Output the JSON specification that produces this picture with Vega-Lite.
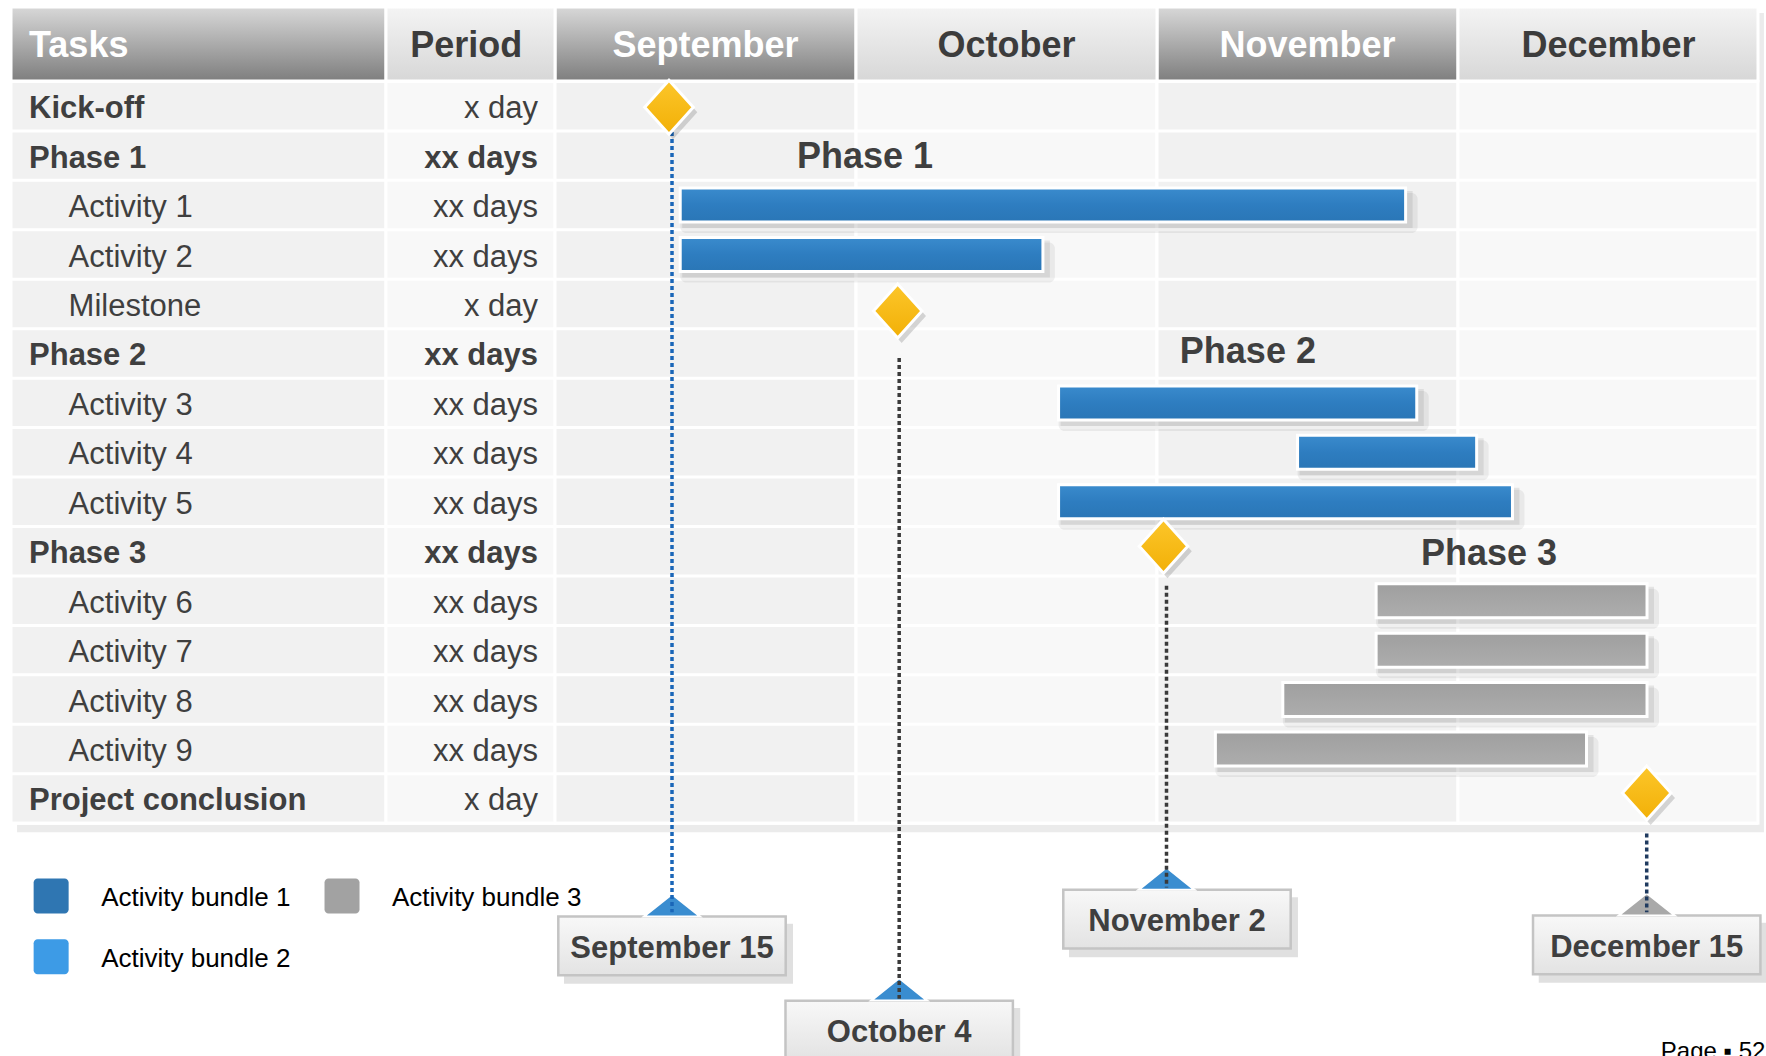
{
  "$schema": "https://vega.github.io/schema/vega-lite/v6.json",
  "width": 1766,
  "height": 1056,
  "autosize": {"type": "none"},
  "padding": 0,
  "background": "#ffffff",
  "config": {"view": {"stroke": null}, "text": {"font": "Liberation Sans"}},
  "resolve": {"scale": {"color": "independent"}},
  "datasets": {
    "header": [
      {"col": "Tasks", "x0": -1.8073, "x1": -0.5615, "mid": -1.7475, "tone": "dark"},
      {"col": "Period", "x0": -0.5615, "x1": 0, "mid": -0.295, "tone": "light"},
      {"col": "September", "x0": 0, "x1": 1, "mid": 0.5, "tone": "dark"},
      {"col": "October", "x0": 1, "x1": 2, "mid": 1.5, "tone": "light"},
      {"col": "November", "x0": 2, "x1": 3, "mid": 2.5, "tone": "dark"},
      {"col": "December", "x0": 3, "x1": 3.9967, "mid": 3.5, "tone": "light"}
    ],
    "tasks": [
      {"row": 0, "task": "Kick-off", "period": "x day", "level": "top", "kind": "event"},
      {"row": 1, "task": "Phase 1", "period": "xx days", "level": "top", "kind": "phase"},
      {"row": 2, "task": "Activity 1", "period": "xx days", "level": "sub", "kind": "activity"},
      {"row": 3, "task": "Activity 2", "period": "xx days", "level": "sub", "kind": "activity"},
      {"row": 4, "task": "Milestone", "period": "x day", "level": "sub", "kind": "event"},
      {"row": 5, "task": "Phase 2", "period": "xx days", "level": "top", "kind": "phase"},
      {"row": 6, "task": "Activity 3", "period": "xx days", "level": "sub", "kind": "activity"},
      {"row": 7, "task": "Activity 4", "period": "xx days", "level": "sub", "kind": "activity"},
      {"row": 8, "task": "Activity 5", "period": "xx days", "level": "sub", "kind": "activity"},
      {"row": 9, "task": "Phase 3", "period": "xx days", "level": "top", "kind": "phase"},
      {"row": 10, "task": "Activity 6", "period": "xx days", "level": "sub", "kind": "activity"},
      {"row": 11, "task": "Activity 7", "period": "xx days", "level": "sub", "kind": "activity"},
      {"row": 12, "task": "Activity 8", "period": "xx days", "level": "sub", "kind": "activity"},
      {"row": 13, "task": "Activity 9", "period": "xx days", "level": "sub", "kind": "activity"},
      {"row": 14, "task": "Project conclusion", "period": "x day", "level": "top", "kind": "event"}
    ],
    "bars": [
      {"task": "Activity 1", "row": 2, "start": 0.416, "end": 2.826, "bundle": "Activity bundle 1"},
      {"task": "Activity 2", "row": 3, "start": 0.416, "end": 1.621, "bundle": "Activity bundle 1"},
      {"task": "Activity 3", "row": 6, "start": 1.673, "end": 2.863, "bundle": "Activity bundle 2"},
      {"task": "Activity 4", "row": 7, "start": 2.467, "end": 3.062, "bundle": "Activity bundle 2"},
      {"task": "Activity 5", "row": 8, "start": 1.673, "end": 3.181, "bundle": "Activity bundle 2"},
      {"task": "Activity 6", "row": 10, "start": 2.728, "end": 3.628, "bundle": "Activity bundle 3"},
      {"task": "Activity 7", "row": 11, "start": 2.728, "end": 3.628, "bundle": "Activity bundle 3"},
      {"task": "Activity 8", "row": 12, "start": 2.418, "end": 3.628, "bundle": "Activity bundle 3"},
      {"task": "Activity 9", "row": 13, "start": 2.194, "end": 3.427, "bundle": "Activity bundle 3"}
    ],
    "phases": [
      {"label": "Phase 1", "pos": 1.03, "row": 0.99},
      {"label": "Phase 2", "pos": 2.302, "row": 4.94},
      {"label": "Phase 3", "pos": 3.103, "row": 9.01}
    ],
    "diamonds": [
      {"task": "Kick-off", "pos": 0.3787, "row": 0.02},
      {"task": "Milestone", "pos": 1.1385, "row": 4.14},
      {"task": "Phase 3", "pos": 2.0216, "row": 8.9},
      {"task": "Project conclusion", "pos": 3.627, "row": 13.89}
    ],
    "dates": [
      {"date": "September 15", "line": 0.3887, "top": 0.52, "bottom": 16.3, "labelX": 0.3887, "labelY": 16.98},
      {"date": "October 4", "line": 1.1435, "top": 5.09, "bottom": 18.05, "labelX": 1.1435, "labelY": 18.68},
      {"date": "November 2", "line": 2.0316, "top": 9.7, "bottom": 15.8, "labelX": 2.0664, "labelY": 16.44},
      {"date": "December 15", "line": 3.627, "top": 14.71, "bottom": 16.3, "labelX": 3.627, "labelY": 16.96}
    ],
    "legend": [
      {"bundle": "Activity bundle 1", "col": -1.674, "row": 15.97},
      {"bundle": "Activity bundle 2", "col": -1.674, "row": 17.2},
      {"bundle": "Activity bundle 3", "col": -0.7076, "row": 15.97}
    ]
  },
  "layer": [
    {
      "data": {"values": [{"part": "table"}]},
      "mark": {"type": "rect", "fill": "#000000", "opacity": 0.08, "xOffset": 6, "x2Offset": 6, "yOffset": 6, "y2Offset": 9},
      "encoding": {
        "x": {"datum": -1.8073, "type": "quantitative", "scale": {"domain": [-1.8439, 4.0233], "nice": false, "zero": false}, "axis": null},
        "x2": {"datum": 3.9967},
        "y": {"datum": -2.006, "type": "quantitative", "scale": {"domain": [-2.1476, 19.2073], "nice": false, "zero": false, "reverse": true}, "axis": null},
        "y2": {"datum": 14.5}
      }
    },
    {
      "data": {"name": "header"},
      "transform": [{"filter": "datum.tone === 'dark'"}],
      "mark": {"type": "rect", "stroke": "#ffffff", "strokeWidth": 3,
        "fill": {"gradient": "linear", "x1": 0, "y1": 0, "x2": 0, "y2": 1, "stops": [{"offset": 0, "color": "#d8d8d8"}, {"offset": 1, "color": "#7e7e7e"}]}},
      "encoding": {
        "x": {"field": "x0", "type": "quantitative", "scale": {"domain": [-1.8439, 4.0233], "nice": false, "zero": false}, "axis": null},
        "x2": {"field": "x1"},
        "y": {"datum": -2.006, "type": "quantitative", "scale": {"domain": [-2.1476, 19.2073], "nice": false, "zero": false, "reverse": true}, "axis": null},
        "y2": {"datum": -0.51}
      }
    },
    {
      "data": {"name": "header"},
      "transform": [{"filter": "datum.tone === 'light'"}],
      "mark": {"type": "rect", "stroke": "#ffffff", "strokeWidth": 3,
        "fill": {"gradient": "linear", "x1": 0, "y1": 0, "x2": 0, "y2": 1, "stops": [{"offset": 0, "color": "#f4f4f4"}, {"offset": 1, "color": "#d7d7d7"}]}},
      "encoding": {
        "x": {"field": "x0", "type": "quantitative", "scale": {"domain": [-1.8439, 4.0233], "nice": false, "zero": false}, "axis": null},
        "x2": {"field": "x1"},
        "y": {"datum": -2.006, "type": "quantitative", "scale": {"domain": [-2.1476, 19.2073], "nice": false, "zero": false, "reverse": true}, "axis": null},
        "y2": {"datum": -0.51}
      }
    },
    {
      "data": {"name": "header"},
      "mark": {"type": "rect", "stroke": "#ffffff", "strokeWidth": 3},
      "encoding": {
        "x": {"field": "x0", "type": "quantitative", "scale": {"domain": [-1.8439, 4.0233], "nice": false, "zero": false}, "axis": null},
        "x2": {"field": "x1"},
        "y": {"datum": -0.5, "type": "quantitative", "scale": {"domain": [-2.1476, 19.2073], "nice": false, "zero": false, "reverse": true}, "axis": null},
        "y2": {"datum": 14.5},
        "color": {"field": "tone", "type": "nominal", "scale": {"domain": ["dark", "light"], "range": ["#f1f1f1", "#f8f8f8"]}, "legend": null}
      }
    },
    {
      "data": {"name": "tasks"},
      "mark": {"type": "rule", "stroke": "#ffffff", "strokeWidth": 3, "yOffset": 24.72},
      "encoding": {
        "x": {"datum": -1.8073, "type": "quantitative", "scale": {"domain": [-1.8439, 4.0233], "nice": false, "zero": false}, "axis": null},
        "x2": {"datum": 3.9967},
        "y": {"field": "row", "type": "quantitative", "scale": {"domain": [-2.1476, 19.2073], "nice": false, "zero": false, "reverse": true}, "axis": null}
      }
    },
    {
      "data": {"name": "header"},
      "transform": [{"filter": "datum.tone === 'dark' && datum.col !== 'Tasks'"}],
      "mark": {"type": "text", "align": "center", "baseline": "middle", "fontSize": 36, "fontWeight": "bold", "fill": "#ffffff", "dy": 3},
      "encoding": {
        "x": {"field": "mid", "type": "quantitative", "scale": {"domain": [-1.8439, 4.0233], "nice": false, "zero": false}, "axis": null},
        "y": {"datum": -1.27, "type": "quantitative", "scale": {"domain": [-2.1476, 19.2073], "nice": false, "zero": false, "reverse": true}, "axis": null},
        "text": {"field": "col"}
      }
    },
    {
      "data": {"name": "header"},
      "transform": [{"filter": "datum.col === 'Tasks'"}],
      "mark": {"type": "text", "align": "left", "baseline": "middle", "fontSize": 36, "fontWeight": "bold", "fill": "#ffffff", "dy": 3},
      "encoding": {
        "x": {"field": "mid", "type": "quantitative", "scale": {"domain": [-1.8439, 4.0233], "nice": false, "zero": false}, "axis": null},
        "y": {"datum": -1.27, "type": "quantitative", "scale": {"domain": [-2.1476, 19.2073], "nice": false, "zero": false, "reverse": true}, "axis": null},
        "text": {"field": "col"}
      }
    },
    {
      "data": {"name": "header"},
      "transform": [{"filter": "datum.tone === 'light'"}],
      "mark": {"type": "text", "align": "center", "baseline": "middle", "fontSize": 36, "fontWeight": "bold", "fill": "#3c3c3c", "dy": 3},
      "encoding": {
        "x": {"field": "mid", "type": "quantitative", "scale": {"domain": [-1.8439, 4.0233], "nice": false, "zero": false}, "axis": null},
        "y": {"datum": -1.27, "type": "quantitative", "scale": {"domain": [-2.1476, 19.2073], "nice": false, "zero": false, "reverse": true}, "axis": null},
        "text": {"field": "col"}
      }
    },
    {
      "data": {"name": "tasks"},
      "transform": [{"filter": "datum.level === 'top'"}],
      "mark": {"type": "text", "align": "left", "baseline": "middle", "fontSize": 31, "fontWeight": "bold", "fill": "#3f3f3f", "dy": 3},
      "encoding": {
        "x": {"datum": -1.7475, "type": "quantitative", "scale": {"domain": [-1.8439, 4.0233], "nice": false, "zero": false}, "axis": null},
        "y": {"field": "row", "type": "quantitative", "scale": {"domain": [-2.1476, 19.2073], "nice": false, "zero": false, "reverse": true}, "axis": null},
        "text": {"field": "task"}
      }
    },
    {
      "data": {"name": "tasks"},
      "transform": [{"filter": "datum.level === 'sub'"}],
      "mark": {"type": "text", "align": "left", "baseline": "middle", "fontSize": 31, "fill": "#3f3f3f", "dy": 3},
      "encoding": {
        "x": {"datum": -1.616, "type": "quantitative", "scale": {"domain": [-1.8439, 4.0233], "nice": false, "zero": false}, "axis": null},
        "y": {"field": "row", "type": "quantitative", "scale": {"domain": [-2.1476, 19.2073], "nice": false, "zero": false, "reverse": true}, "axis": null},
        "text": {"field": "task"}
      }
    },
    {
      "data": {"name": "tasks"},
      "transform": [{"filter": "datum.kind === 'phase'"}],
      "mark": {"type": "text", "align": "right", "baseline": "middle", "fontSize": 31, "fontWeight": "bold", "fill": "#3f3f3f", "dy": 3},
      "encoding": {
        "x": {"datum": -0.0565, "type": "quantitative", "scale": {"domain": [-1.8439, 4.0233], "nice": false, "zero": false}, "axis": null},
        "y": {"field": "row", "type": "quantitative", "scale": {"domain": [-2.1476, 19.2073], "nice": false, "zero": false, "reverse": true}, "axis": null},
        "text": {"field": "period"}
      }
    },
    {
      "data": {"name": "tasks"},
      "transform": [{"filter": "datum.kind !== 'phase'"}],
      "mark": {"type": "text", "align": "right", "baseline": "middle", "fontSize": 31, "fill": "#3f3f3f", "dy": 3},
      "encoding": {
        "x": {"datum": -0.0565, "type": "quantitative", "scale": {"domain": [-1.8439, 4.0233], "nice": false, "zero": false}, "axis": null},
        "y": {"field": "row", "type": "quantitative", "scale": {"domain": [-2.1476, 19.2073], "nice": false, "zero": false, "reverse": true}, "axis": null},
        "text": {"field": "period"}
      }
    },
    {
      "data": {"name": "phases"},
      "mark": {"type": "text", "align": "center", "baseline": "middle", "fontSize": 36, "fontWeight": "bold", "fill": "#3f3f3f", "dy": 2},
      "encoding": {
        "x": {"field": "pos", "type": "quantitative", "scale": {"domain": [-1.8439, 4.0233], "nice": false, "zero": false}, "axis": null},
        "y": {"field": "row", "type": "quantitative", "scale": {"domain": [-2.1476, 19.2073], "nice": false, "zero": false, "reverse": true}, "axis": null},
        "text": {"field": "label"}
      }
    },
    {
      "data": {"name": "bars"},
      "mark": {"type": "rect", "fill": "#000000", "opacity": 0.06, "cornerRadius": 6, "xOffset": 0, "x2Offset": 12, "yOffset": -12, "y2Offset": 28},
      "encoding": {
        "x": {"field": "start", "type": "quantitative", "scale": {"domain": [-1.8439, 4.0233], "nice": false, "zero": false}, "axis": null},
        "x2": {"field": "end"},
        "y": {"field": "row", "type": "quantitative", "scale": {"domain": [-2.1476, 19.2073], "nice": false, "zero": false, "reverse": true}, "axis": null},
        "y2": {"field": "row"}
      }
    },
    {
      "data": {"name": "bars"},
      "mark": {"type": "rect", "fill": "#000000", "opacity": 0.08, "xOffset": 2, "x2Offset": 7, "yOffset": -14, "y2Offset": 23},
      "encoding": {
        "x": {"field": "start", "type": "quantitative", "scale": {"domain": [-1.8439, 4.0233], "nice": false, "zero": false}, "axis": null},
        "x2": {"field": "end"},
        "y": {"field": "row", "type": "quantitative", "scale": {"domain": [-2.1476, 19.2073], "nice": false, "zero": false, "reverse": true}, "axis": null},
        "y2": {"field": "row"}
      }
    },
    {
      "data": {"name": "bars"},
      "transform": [{"filter": "datum.bundle !== 'Activity bundle 3'"}],
      "mark": {"type": "rect", "stroke": "#ffffff", "strokeWidth": 3, "yOffset": -17, "y2Offset": 17,
        "fill": {"gradient": "linear", "x1": 0, "y1": 0, "x2": 0, "y2": 1, "stops": [{"offset": 0, "color": "#3a8bcd"}, {"offset": 0.5, "color": "#2e7dc0"}, {"offset": 1, "color": "#2a76b6"}]}},
      "encoding": {
        "x": {"field": "start", "type": "quantitative", "scale": {"domain": [-1.8439, 4.0233], "nice": false, "zero": false}, "axis": null},
        "x2": {"field": "end"},
        "y": {"field": "row", "type": "quantitative", "scale": {"domain": [-2.1476, 19.2073], "nice": false, "zero": false, "reverse": true}, "axis": null},
        "y2": {"field": "row"}
      }
    },
    {
      "data": {"name": "bars"},
      "transform": [{"filter": "datum.bundle === 'Activity bundle 3'"}],
      "mark": {"type": "rect", "stroke": "#ffffff", "strokeWidth": 3, "yOffset": -17, "y2Offset": 17,
        "fill": {"gradient": "linear", "x1": 0, "y1": 0, "x2": 0, "y2": 1, "stops": [{"offset": 0, "color": "#9f9f9f"}, {"offset": 1, "color": "#adadad"}]}},
      "encoding": {
        "x": {"field": "start", "type": "quantitative", "scale": {"domain": [-1.8439, 4.0233], "nice": false, "zero": false}, "axis": null},
        "x2": {"field": "end"},
        "y": {"field": "row", "type": "quantitative", "scale": {"domain": [-2.1476, 19.2073], "nice": false, "zero": false, "reverse": true}, "axis": null},
        "y2": {"field": "row"}
      }
    },
    {
      "data": {"name": "dates"},
      "mark": {"type": "rect", "fill": "#000000", "opacity": 0.12, "xOffset": -108, "x2Offset": 121, "yOffset": -22, "y2Offset": 38},
      "encoding": {
        "x": {"field": "labelX", "type": "quantitative", "scale": {"domain": [-1.8439, 4.0233], "nice": false, "zero": false}, "axis": null},
        "x2": {"field": "labelX"},
        "y": {"field": "labelY", "type": "quantitative", "scale": {"domain": [-2.1476, 19.2073], "nice": false, "zero": false, "reverse": true}, "axis": null},
        "y2": {"field": "labelY"}
      }
    },
    {
      "data": {"name": "dates"},
      "mark": {"type": "rect", "stroke": "#c4c4c4", "strokeWidth": 2.5, "xOffset": -113.7, "x2Offset": 113.7, "yOffset": -29.3, "y2Offset": 29.3,
        "fill": {"gradient": "linear", "x1": 0, "y1": 0, "x2": 0, "y2": 1, "stops": [{"offset": 0, "color": "#f8f8f8"}, {"offset": 1, "color": "#e3e3e3"}]}},
      "encoding": {
        "x": {"field": "labelX", "type": "quantitative", "scale": {"domain": [-1.8439, 4.0233], "nice": false, "zero": false}, "axis": null},
        "x2": {"field": "labelX"},
        "y": {"field": "labelY", "type": "quantitative", "scale": {"domain": [-2.1476, 19.2073], "nice": false, "zero": false, "reverse": true}, "axis": null},
        "y2": {"field": "labelY"}
      }
    },
    {
      "data": {"name": "dates"},
      "mark": {"type": "point", "filled": true, "opacity": 1, "shape": "M0,-0.4L1,0.4L-1,0.4Z", "size": 3136, "stroke": "#ffffff", "strokeWidth": 2, "yOffset": -40.5},
      "encoding": {
        "x": {"field": "line", "type": "quantitative", "scale": {"domain": [-1.8439, 4.0233], "nice": false, "zero": false}, "axis": null},
        "y": {"field": "labelY", "type": "quantitative", "scale": {"domain": [-2.1476, 19.2073], "nice": false, "zero": false, "reverse": true}, "axis": null},
        "color": {"field": "date", "type": "nominal", "scale": {"domain": ["September 15", "October 4", "November 2", "December 15"], "range": ["#3a8dd0", "#3a8dd0", "#3a8dd0", "#a9a9a9"]}, "legend": null}
      }
    },
    {
      "data": {"name": "dates"},
      "mark": {"type": "rule", "strokeWidth": 3.5, "strokeDash": [4, 3]},
      "encoding": {
        "x": {"field": "line", "type": "quantitative", "scale": {"domain": [-1.8439, 4.0233], "nice": false, "zero": false}, "axis": null},
        "y": {"field": "top", "type": "quantitative", "scale": {"domain": [-2.1476, 19.2073], "nice": false, "zero": false, "reverse": true}, "axis": null},
        "y2": {"field": "bottom"},
        "color": {"field": "date", "type": "nominal", "scale": {"domain": ["September 15", "October 4", "November 2", "December 15"], "range": ["#1a66b8", "#3a3a3a", "#3a3a3a", "#1f3a5f"]}, "legend": null}
      }
    },
    {
      "data": {"name": "dates"},
      "mark": {"type": "text", "align": "center", "baseline": "middle", "fontSize": 31, "fontWeight": "bold", "fill": "#3f3f3f", "dy": 3},
      "encoding": {
        "x": {"field": "labelX", "type": "quantitative", "scale": {"domain": [-1.8439, 4.0233], "nice": false, "zero": false}, "axis": null},
        "y": {"field": "labelY", "type": "quantitative", "scale": {"domain": [-2.1476, 19.2073], "nice": false, "zero": false, "reverse": true}, "axis": null},
        "text": {"field": "date"}
      }
    },
    {
      "data": {"name": "diamonds"},
      "mark": {"type": "point", "filled": true, "fill": "#000000", "opacity": 0.15, "shape": "M-0.9,0L0,-1L0.9,0L0,1Z", "size": 2916, "xOffset": 4, "yOffset": 5},
      "encoding": {
        "x": {"field": "pos", "type": "quantitative", "scale": {"domain": [-1.8439, 4.0233], "nice": false, "zero": false}, "axis": null},
        "y": {"field": "row", "type": "quantitative", "scale": {"domain": [-2.1476, 19.2073], "nice": false, "zero": false, "reverse": true}, "axis": null}
      }
    },
    {
      "data": {"name": "diamonds"},
      "mark": {"type": "point", "filled": true, "opacity": 1, "shape": "M-0.9,0L0,-1L0.9,0L0,1Z", "size": 2916, "stroke": "#ffffff", "strokeWidth": 3,
        "fill": {"gradient": "linear", "x1": 0, "y1": 0, "x2": 0, "y2": 1, "stops": [{"offset": 0, "color": "#fcc62a"}, {"offset": 1, "color": "#f2b007"}]}},
      "encoding": {
        "x": {"field": "pos", "type": "quantitative", "scale": {"domain": [-1.8439, 4.0233], "nice": false, "zero": false}, "axis": null},
        "y": {"field": "row", "type": "quantitative", "scale": {"domain": [-2.1476, 19.2073], "nice": false, "zero": false, "reverse": true}, "axis": null}
      }
    },
    {
      "data": {"name": "legend"},
      "mark": {"type": "rect", "cornerRadius": 4, "xOffset": -17.5, "x2Offset": 17.5, "yOffset": -17.5, "y2Offset": 17.5},
      "encoding": {
        "x": {"field": "col", "type": "quantitative", "scale": {"domain": [-1.8439, 4.0233], "nice": false, "zero": false}, "axis": null},
        "x2": {"field": "col"},
        "y": {"field": "row", "type": "quantitative", "scale": {"domain": [-2.1476, 19.2073], "nice": false, "zero": false, "reverse": true}, "axis": null},
        "y2": {"field": "row"},
        "color": {"field": "bundle", "type": "nominal", "scale": {"domain": ["Activity bundle 1", "Activity bundle 2", "Activity bundle 3"], "range": ["#2f76b2", "#3d9be6", "#a2a2a2"]}, "legend": null}
      }
    },
    {
      "data": {"name": "legend"},
      "mark": {"type": "text", "align": "left", "baseline": "middle", "fontSize": 26, "fill": "#000000", "dx": 50, "dy": 2},
      "encoding": {
        "x": {"field": "col", "type": "quantitative", "scale": {"domain": [-1.8439, 4.0233], "nice": false, "zero": false}, "axis": null},
        "y": {"field": "row", "type": "quantitative", "scale": {"domain": [-2.1476, 19.2073], "nice": false, "zero": false, "reverse": true}, "axis": null},
        "text": {"field": "bundle"}
      }
    },
    {
      "data": {"values": [{"page": "Page ▪ 52"}]},
      "mark": {"type": "text", "align": "left", "baseline": "top", "fontSize": 24, "fill": "#000000"},
      "encoding": {
        "x": {"datum": 3.674, "type": "quantitative", "scale": {"domain": [-1.8439, 4.0233], "nice": false, "zero": false}, "axis": null},
        "y": {"datum": 18.884, "type": "quantitative", "scale": {"domain": [-2.1476, 19.2073], "nice": false, "zero": false, "reverse": true}, "axis": null},
        "text": {"field": "page"}
      }
    }
  ]
}
